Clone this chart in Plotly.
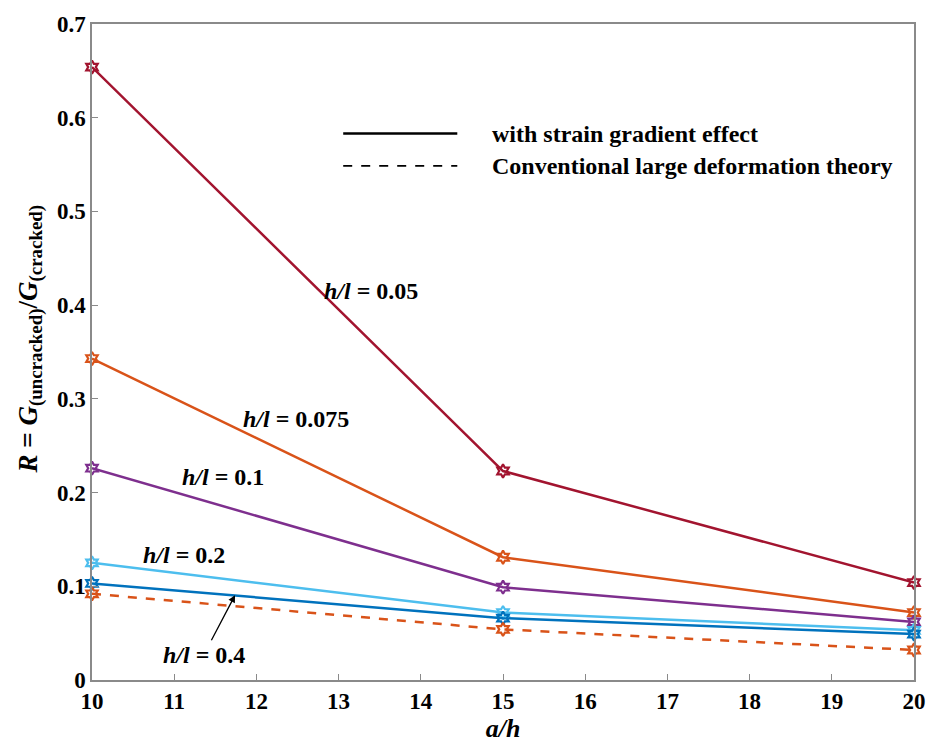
import plotly.graph_objects as go

# Crack length ratio a/h
a_over_h = [10, 15, 20]

# Energy release rate ratio R for each h/l (with strain gradient effect)
r_hl_005 = [0.654, 0.223, 0.104]
r_hl_0075 = [0.343, 0.131, 0.072]
r_hl_01 = [0.226, 0.099, 0.062]
r_hl_02 = [0.125, 0.072, 0.053]
r_hl_04 = [0.103, 0.066, 0.049]
# Conventional large deformation theory
r_conventional = [0.092, 0.054, 0.032]

series = [
    ("h/l = 0.05", r_hl_005, "#A2142F", "solid"),
    ("h/l = 0.075", r_hl_0075, "#D95319", "solid"),
    ("h/l = 0.1", r_hl_01, "#7E2F8E", "solid"),
    ("h/l = 0.2", r_hl_02, "#4DBEEE", "solid"),
    ("h/l = 0.4", r_hl_04, "#0072BD", "solid"),
    ("Conventional", r_conventional, "#D95319", "dash"),
]

FONT = "Liberation Serif"
fig = go.Figure()
for name, vals, color, dash in series:
    fig.add_trace(go.Scatter(
        x=a_over_h, y=vals, mode="lines+markers", name=name,
        line=dict(color=color, width=2.5, dash=dash),
        marker=dict(symbol="hexagram-open", size=10, color=color,
                    line=dict(color=color, width=2.2)),
        showlegend=False, cliponaxis=False,
    ))

ann_font = dict(family=FONT, size=24, color="black", weight="bold")

# Curve labels
labels = [
    ("<i>h/l</i> = 0.05", 13.4, 0.415),
    ("<i>h/l</i> = 0.075", 12.48, 0.2785),
    ("<i>h/l</i> = 0.1", 11.59, 0.2165),
    ("<i>h/l</i> = 0.2", 11.12, 0.133),
]
annotations = []
for txt, x, y in labels:
    annotations.append(dict(x=x, y=y, xref="x", yref="y", text=txt,
                            showarrow=False, font=ann_font))
annotations.append(dict(x=11.74, y=0.0905, xref="x", yref="y", text="<i>h/l</i> = 0.4",
                        ax=11.36, ay=0.027, axref="x", ayref="y",
                        showarrow=True, arrowhead=2, arrowsize=1.1, arrowwidth=1.3,
                        arrowcolor="black", font=ann_font))

# Custom legend for line styles
annotations.append(dict(x=0.484, y=0.833, xref="paper", yref="paper",
                        xanchor="left", yanchor="middle",
                        text="with strain gradient effect", showarrow=False, font=ann_font))
annotations.append(dict(x=0.484, y=0.7836, xref="paper", yref="paper",
                        xanchor="left", yanchor="middle",
                        text="Conventional large deformation theory", showarrow=False,
                        font=ann_font))

# Y-axis title
annotations.append(dict(
    x=-0.051, y=0.52, xref="paper", yref="paper", xanchor="right", yanchor="middle",
    textangle=-90, showarrow=False,
    text="<i>R</i> = <i>G</i><sub>(uncracked)</sub>/<i>G</i><sub>(cracked)</sub>",
    font=dict(family=FONT, size=27, color="black", weight="bold")))

shapes = [
    dict(type="line", xref="paper", yref="paper", x0=0.3056, x1=0.4444, y0=0.833, y1=0.833,
         line=dict(color="black", width=2.5)),
    dict(type="line", xref="paper", yref="paper", x0=0.3056, x1=0.4444, y0=0.7836, y1=0.7836,
         line=dict(color="black", width=1.8, dash="dash")),
]

axis_common = dict(showline=True, mirror=True, linecolor="#8a8a8a", linewidth=1.5,
                   ticks="inside", ticklen=6, tickcolor="#8a8a8a", showgrid=False,
                   zeroline=False,
                   tickfont=dict(family=FONT, size=23, color="black", weight="bold"))

fig.update_layout(
    width=938, height=749,
    margin=dict(l=92, r=18, t=13, b=66),
    paper_bgcolor="white", plot_bgcolor="white",
    xaxis=dict(range=[10, 20], dtick=1,
               title=dict(text="<i>a/h</i>", standoff=4,
                          font=dict(family=FONT, size=26, color="black", weight="bold")),
               **axis_common),
    yaxis=dict(range=[0, 0.7], dtick=0.1, **axis_common),
    annotations=annotations,
    shapes=shapes,
)

fig.write_html("out.html")
